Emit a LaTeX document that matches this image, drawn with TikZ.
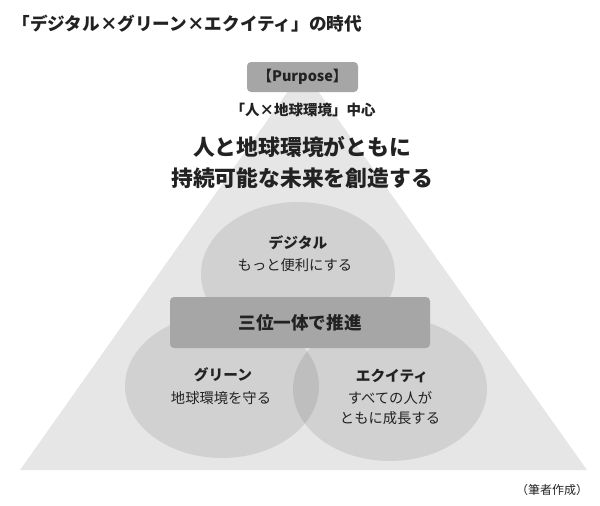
\documentclass[tikz,border=0pt]{standalone}
\usepackage{fontspec}
\setmainfont{Noto Sans CJK JP}
\usetikzlibrary{shapes.geometric}
\definecolor{ink}{HTML}{222222}
\definecolor{trigray}{HTML}{E6E6E6}
\definecolor{boxgray}{HTML}{A6A6A6}
\begin{document}
\begin{tikzpicture}[x=1pt, y=-1pt,
    oval/.style={ellipse, fill=black, fill opacity=0.09, minimum width=194pt, minimum height=144pt, inner sep=0pt},
    tag/.style={fill=boxgray, rounded corners=4pt, inner sep=0pt},
    head/.style={font=\bfseries\fontsize{14.7}{17}\selectfont, text=ink},
    sub/.style={font=\fontsize{14.3}{20.5}\selectfont, text=ink, align=center},
    every node/.style={text=ink}]
  \useasboundingbox (0,0) rectangle (600,506);
  % Titulo
  \node[anchor=west, font=\bfseries\fontsize{17.6}{20}\selectfont] (title) at (9,24)
    {「デジタル×グリーン×エクイティ」の時代};
  % Triangulo de fondo
  \fill[trigray] (303,70) -- (587,470) -- (20,470) -- cycle;
  % Purpose
  \node[tag, minimum width=111pt, minimum height=30pt, font=\bfseries\fontsize{14.5}{16}\selectfont]
    (purpose) at (302.5,77) {【Purpose】};
  \node[font=\bfseries\fontsize{14.5}{16}\selectfont] (center) at (303,110) {「人×地球環境」中心};
  \node[font=\bfseries\fontsize{21.8}{31}\selectfont, align=center] (goal) at (302,162)
    {人と地球環境がともに\\持続可能な未来を創造する};
  % Tres circulos
  \node[oval] (digital) at (298,274) {};
  \node[oval] (green)   at (222,386) {};
  \node[oval] (equity)  at (390,389) {};
  % Banda central
  \node[tag, minimum width=260pt, minimum height=51pt, font=\bfseries\fontsize{17.6}{20}\selectfont]
    (trinity) at (300,322.5) {三位一体で推進};
  % Textos
  \node[head] (digitalhd) at (298,243) {デジタル};
  \node[sub]  (digitaltx) at (295,265) {もっと便利にする};
  \node[head] (greenhd)   at (223,375) {グリーン};
  \node[sub]  (greentx)   at (221,398) {地球環境を守る};
  \node[head] (equityhd)  at (392,376) {エクイティ};
  \node[sub]  (equitytx)  at (390,408) {すべての人が\\ともに成長する};
  % Fuente
  \node[font=\fontsize{12}{14}\selectfont] (source) at (552,490) {（筆者作成）};
\end{tikzpicture}
\end{document}
